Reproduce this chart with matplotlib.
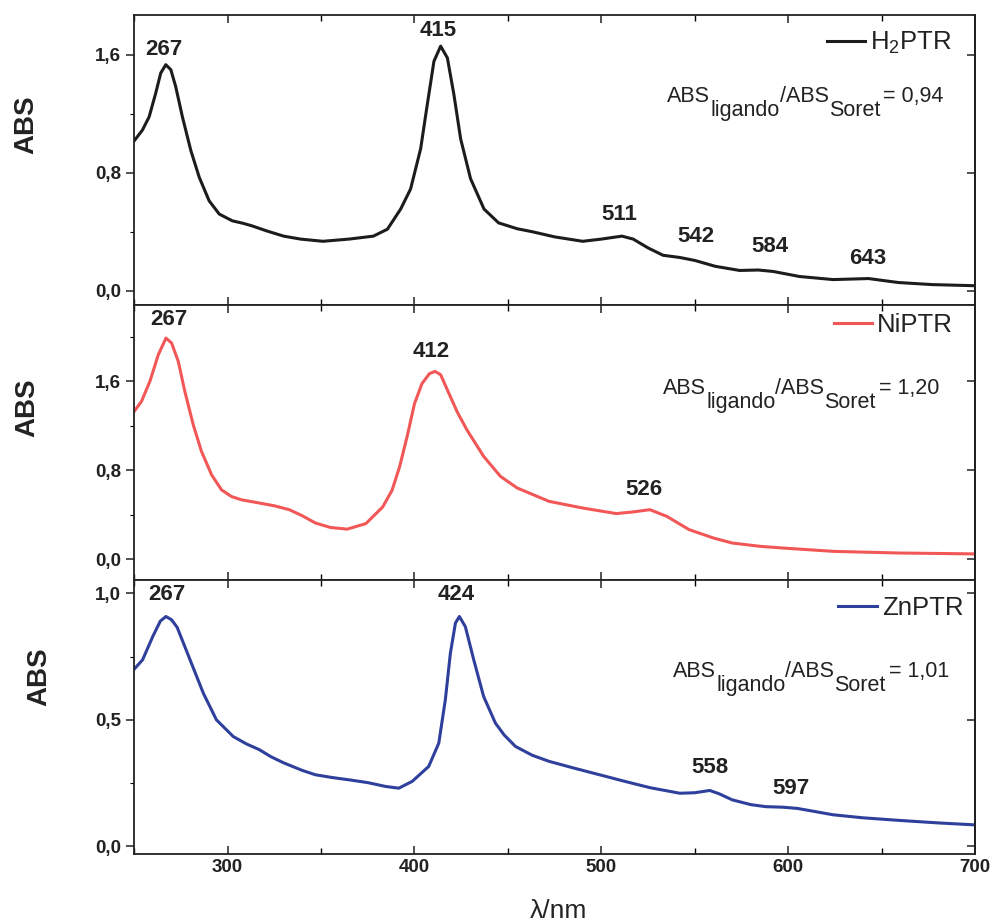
import numpy as np
import matplotlib
matplotlib.use("Agg")
import matplotlib.pyplot as plt
from matplotlib.ticker import MultipleLocator, FuncFormatter

plt.rcParams['font.family'] = ['Liberation Sans', 'DejaVu Sans']
plt.rcParams['mathtext.fontset'] = 'custom'
plt.rcParams['mathtext.rm'] = 'Liberation Sans'

# H2PTR
wl_h2 = [250, 254.4, 258, 261.5, 264.2, 266.9, 269.6, 272.2, 275.8, 280.3, 284.8, 290.1, 295.5, 302.5,
         308, 313, 321, 330, 339, 351, 365, 378, 385.5, 392.6, 397.9, 403.3, 406.8, 410.4, 414,
         417.6, 421.1, 424.7, 430, 437.2, 445, 455, 463, 475, 490, 500, 511, 517, 525, 533, 542,
         550, 561, 574, 584, 592, 606, 624, 643, 650, 659, 677, 698, 700]
abs_h2 = [1.017, 1.09, 1.18, 1.34, 1.477, 1.534, 1.50, 1.386, 1.18, 0.952, 0.77, 0.61, 0.52, 0.474,
          0.458, 0.44, 0.405, 0.37, 0.35, 0.335, 0.35, 0.37, 0.417, 0.554, 0.69, 0.964, 1.26, 1.557, 1.66,
          1.58, 1.33, 1.03, 0.76, 0.554, 0.46, 0.42, 0.40, 0.365, 0.335, 0.35, 0.37, 0.35, 0.29, 0.24, 0.225,
          0.205, 0.165, 0.137, 0.14, 0.13, 0.096, 0.075, 0.082, 0.07, 0.055, 0.041, 0.034, 0.033]

# NiPTR
wl_ni = [250, 253.9, 258.4, 262.9, 267, 270, 273.6, 277.1, 281.6, 286, 291.4, 296.7, 302, 307.4,
         317, 325, 333, 340, 347, 355, 364, 374, 383, 388, 392, 396, 400, 404, 408, 411, 414,
         419, 423, 428, 437, 446, 455, 472, 490, 508, 517, 526, 535, 547, 560, 570, 585, 597,
         624, 659, 700]
abs_ni = [1.33, 1.42, 1.60, 1.84, 1.99, 1.946, 1.78, 1.51, 1.21, 0.97, 0.76, 0.624, 0.564, 0.534,
          0.505, 0.48, 0.445, 0.39, 0.325, 0.285, 0.27, 0.32, 0.47, 0.62, 0.83, 1.10, 1.40, 1.58, 1.67, 1.69, 1.66,
          1.47, 1.32, 1.165, 0.925, 0.745, 0.64, 0.52, 0.46, 0.41, 0.425, 0.445, 0.385, 0.265, 0.19, 0.145, 0.115, 0.10,
          0.07, 0.055, 0.047]

# ZnPTR
wl_zn = [250, 254.5, 260, 264, 267, 270, 273, 280, 287, 294, 303, 310, 317, 323, 330, 340,
         347, 356, 365, 375, 384.4, 391.6, 398.8, 407.6, 413, 416.5, 419.2, 421.9, 424, 427.2,
         431.7, 437, 443.3, 448, 454, 463, 472, 485, 499, 512, 526, 542, 550, 558, 563,
         570, 580, 588, 597, 605, 624, 640, 659, 680, 700]
abs_zn = [0.70, 0.737, 0.83, 0.89, 0.908, 0.895, 0.865, 0.735, 0.605, 0.50, 0.434, 0.405, 0.382, 0.355, 0.33, 0.30,
          0.283, 0.272, 0.263, 0.252, 0.237, 0.23, 0.257, 0.316, 0.408, 0.579, 0.763, 0.882, 0.908, 0.868,
          0.737, 0.592, 0.487, 0.44, 0.395, 0.36, 0.336, 0.31, 0.283, 0.258, 0.232, 0.21, 0.212, 0.221, 0.208,
          0.184, 0.165, 0.157, 0.155, 0.15, 0.125, 0.113, 0.103, 0.093, 0.085]

series_names = ['H$_\\mathregular{2}$PTR', 'NiPTR', 'ZnPTR']
series_colors = ['#1c1c1c', '#f25757', '#2e3f9c']
ratio_values = ['0,94', '1,20', '1,01']

# peak labels: text, x, y (data coords)
peaks_h2 = [('267', 265.8, 1.634), ('415', 412.8, 1.764), ('511', 509.6, 0.52),
            ('542', 550.8, 0.37), ('584', 590.4, 0.30), ('643', 642.3, 0.219)]
peaks_ni = [('267', 268.4, 2.156), ('412', 409.1, 1.87), ('526', 523, 0.624)]
peaks_zn = [('267', 267.4, 0.994), ('424', 422.5, 0.994), ('558', 558, 0.31), ('597', 601.6, 0.23)]

ylims = [(-0.096, 1.873), (-0.186, 2.29), (-0.029, 1.053)]
y_major = [0.8, 0.8, 0.5]
y_minor = [0.4, 0.4, 0.25]
ylabel_pos = [(-0.113, 0.62), (-0.112, 0.625), (-0.097, 0.646)]
legend_pos = [(0.973, 0.903), (0.974, 0.927), (0.986, 0.898)]
ratio_pos = [(0.634, 0.70), (0.629, 0.676), (0.641, 0.646)]

fig = plt.figure(figsize=(9.94, 9.23), dpi=100)
gs = fig.add_gridspec(3, 1, height_ratios=[290, 275, 274], hspace=0,
                      left=0.135, right=0.981, top=0.984, bottom=0.075)
axes = [fig.add_subplot(gs[i]) for i in range(3)]

data = [(wl_h2, abs_h2, peaks_h2), (wl_ni, abs_ni, peaks_ni), (wl_zn, abs_zn, peaks_zn)]
comma = FuncFormatter(lambda v, p: ('%.1f' % v).replace('.', ','))
tick_color = '#222222'

for i, ax in enumerate(axes):
    wl, ab, peaks = data[i]
    ax.plot(wl, ab, color=series_colors[i], lw=2.2, label=series_names[i],
            solid_joinstyle='round')
    ax.set_xlim(250, 700)
    ax.set_ylim(*ylims[i])
    ax.xaxis.set_major_locator(MultipleLocator(100))
    ax.xaxis.set_minor_locator(MultipleLocator(50))
    ax.yaxis.set_major_locator(MultipleLocator(y_major[i]))
    ax.yaxis.set_minor_locator(MultipleLocator(y_minor[i]))
    ax.yaxis.set_major_formatter(comma)
    ax.tick_params(axis='x', which='both', direction='in', top=True, bottom=True)
    ax.tick_params(axis='x', which='major', length=6, width=1.1)
    ax.tick_params(axis='x', which='minor', length=4, width=1.0)
    ax.tick_params(axis='y', which='both', direction='out', right=False)
    ax.tick_params(axis='y', which='major', length=6, width=1.1)
    ax.tick_params(axis='y', which='minor', length=3, width=0.8)
    ax.tick_params(labelsize=13.5, colors=tick_color)
    for lab in ax.get_xticklabels() + ax.get_yticklabels():
        lab.set_fontweight('bold')
    if i < 2:
        ax.tick_params(axis='x', labelbottom=False)
    for sp in ax.spines.values():
        sp.set_linewidth(1.3)
        sp.set_color('#222222')

    sec = ax.secondary_yaxis('right')
    sec.yaxis.set_major_locator(MultipleLocator(y_major[i]))
    sec.yaxis.set_minor_locator(MultipleLocator(y_minor[i]))
    sec.tick_params(axis='y', which='both', direction='in', labelright=False, colors=tick_color)
    sec.tick_params(axis='y', which='major', length=6, width=1.1)
    sec.tick_params(axis='y', which='minor', length=0)
    sec.spines['right'].set_linewidth(1.3)

    ax.set_ylabel('ABS', fontsize=20, fontweight='bold', color='#222222')
    ax.yaxis.set_label_coords(*ylabel_pos[i])

    for txt, px, py in peaks:
        ax.text(px, py, txt, ha='center', va='center', fontsize=16,
                fontweight='bold', color='#222222')

    leg = ax.legend(loc='center right', bbox_to_anchor=legend_pos[i], frameon=False,
                    fontsize=18.5, handlelength=1.5, handletextpad=0.2,
                    borderpad=0, borderaxespad=0)
    for t in leg.get_texts():
        t.set_color('#222222')

    # ratio text with full-size subscripts
    rx, ry = ratio_pos[i]
    fs = 15.5
    dy = 10.5
    t1 = ax.text(rx, ry, 'ABS', transform=ax.transAxes, fontsize=fs,
                 ha='left', va='baseline', color='#222222')
    t2 = ax.annotate('ligando', xy=(1, 0), xycoords=t1, xytext=(0, -dy),
                     textcoords='offset points', fontsize=fs, ha='left', va='bottom', color='#222222')
    t3 = ax.annotate('/ABS', xy=(1, 0), xycoords=t2, xytext=(0, dy),
                     textcoords='offset points', fontsize=fs, ha='left', va='bottom', color='#222222')
    t4 = ax.annotate('Soret', xy=(1, 0), xycoords=t3, xytext=(0, -dy),
                     textcoords='offset points', fontsize=fs, ha='left', va='bottom', color='#222222')
    ax.annotate('= ' + ratio_values[i], xy=(1, 0), xycoords=t4, xytext=(2, dy),
                textcoords='offset points', fontsize=fs, ha='left', va='bottom', color='#222222')

axes[2].set_xlabel('λ/nm', fontsize=19, color='#222222')
axes[2].xaxis.set_label_coords(0.504, -0.165)

fig.savefig('out.png', dpi=100)
